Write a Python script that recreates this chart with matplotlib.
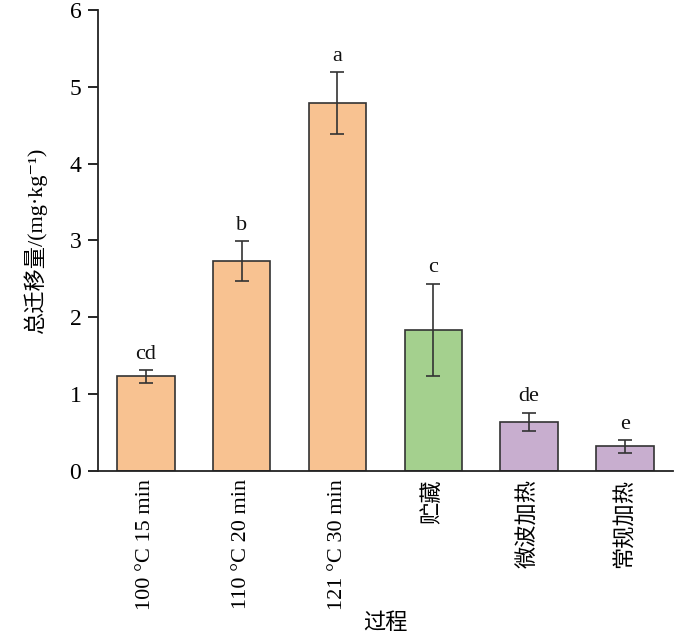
import matplotlib
matplotlib.use("Agg")
import matplotlib.pyplot as plt

categories = ["100 °C 15 min", "110 °C 20 min", "121 °C 30 min", "贮藏", "微波加热", "常规加热"]
values = [1.23, 2.73, 4.79, 1.84, 0.64, 0.32]
errors = [0.08, 0.26, 0.40, 0.60, 0.12, 0.08]
letters = ["cd", "b", "a", "c", "de", "e"]
colors = ["#F8C291", "#F8C291", "#F8C291", "#A4D08E", "#C8AECF", "#C8AECF"]

fam = ['Liberation Serif', 'Noto Sans CJK SC', 'DejaVu Serif']
plt.rcParams['font.family'] = fam

fig = plt.figure(figsize=(7.0, 6.42), dpi=100)
ax = fig.add_axes([0.14, 0.2664, 0.821, 0.718])

x = list(range(len(categories)))
ax.bar(x, values, width=0.6, color=colors, edgecolor="#333333", linewidth=1.2,
       yerr=errors, error_kw=dict(ecolor="#333333", elinewidth=1.2, capsize=5, capthick=1.2), zorder=2)

for xi, v, e, l in zip(x, values, errors, letters):
    ax.text(xi, v + e + 0.08, l, ha="center", va="bottom", fontsize=16, color="#111111")

ax.set_xlim(-0.5, 5.5)
ax.set_ylim(0, 6)
ax.set_yticks(range(7))
ax.set_xticks(x)
ax.set_xticklabels(categories, rotation=90, fontsize=16)
ax.tick_params(axis="y", direction="out", length=7, width=1.2, labelsize=17, pad=5)
ax.tick_params(axis="x", direction="in", length=7, width=1.2, pad=6)
for s in ["top", "right"]:
    ax.spines[s].set_visible(False)
for s in ["left", "bottom"]:
    ax.spines[s].set_linewidth(1.3)
    ax.spines[s].set_color("#222222")

ax.set_ylabel("总迁移量/(mg·kg⁻¹)", fontsize=16, labelpad=16)
ax.set_xlabel("过程", fontsize=16, labelpad=2)

fig.savefig("out.png", dpi=100)
